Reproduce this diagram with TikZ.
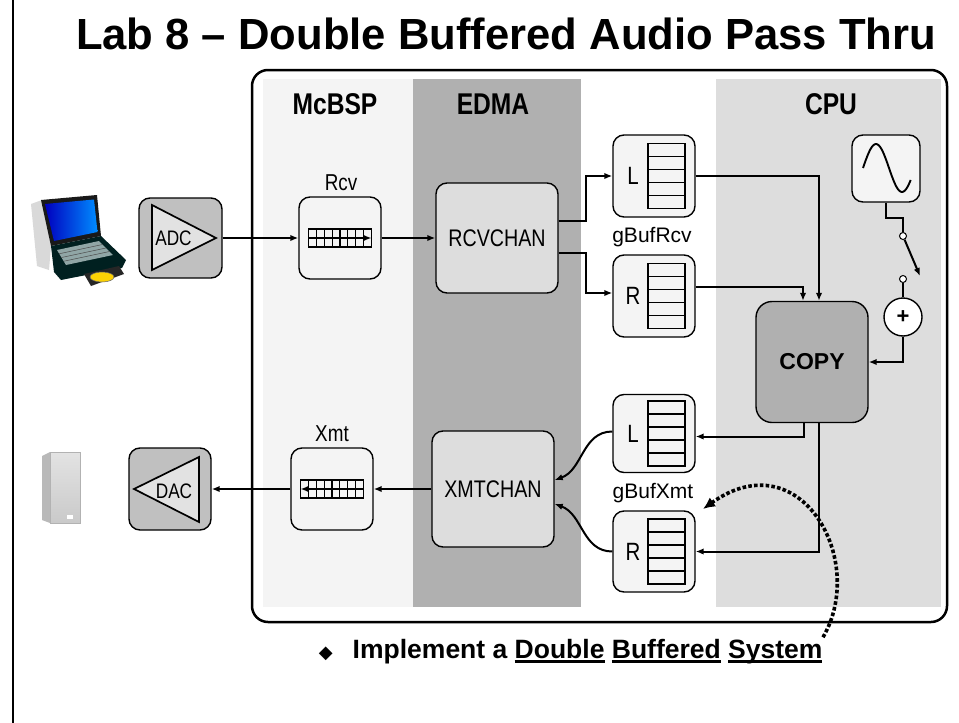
\documentclass[tikz,border=0pt]{standalone}
\usepackage{fontspec}
\setmainfont{Liberation Sans}
\newfontfamily\narrowfont[FakeStretch=0.82]{Liberation Sans}
\newfontfamily\symfont{DejaVu Sans}
\usetikzlibrary{arrows.meta,calc}
\definecolor{bandlight}{HTML}{F4F4F4}
\definecolor{banddark}{HTML}{B0B0B0}
\definecolor{bandcpu}{HTML}{DDDDDD}
\definecolor{convgrey}{HTML}{C0C0C0}
\definecolor{trifill}{HTML}{E2E2E2}
\newcommand\ulword[1]{\setbox0=\hbox{#1}\rlap{\rule[-4.5pt]{\wd0}{2.2pt}}\box0\relax}
\tikzset{
  blk/.style={draw=black, line width=1.4pt, rounded corners=11pt, inner sep=0pt},
  lbl/.style={font=\narrowfont\fontsize{23}{25}\selectfont},
  chlbl/.style={font=\narrowfont\fontsize{25}{27}\selectfont},
  buflbl/.style={font=\fontsize{21}{23}\selectfont},
  bandlbl/.style={font=\narrowfont\bfseries\fontsize{30}{32}\selectfont},
  flow/.style={line width=2pt, -{Latex[length=8pt,width=6.5pt]}},
  wire/.style={line width=2pt},
  tiny/.style={circle, draw, fill=white, inner sep=0pt, minimum size=7pt, line width=1pt},
  dotflow/.style={line width=3.6pt, dash pattern=on 3.6pt off 2.2pt, -{Latex[length=12pt,width=11pt]}},
  stack/.pic={
    \draw[line width=1.3pt] (-18.5,-32.5) rectangle (18.5,32.5);
    \foreach \k in {-19.5,-6.5,6.5,19.5} \draw[line width=1.3pt] (-18.5,\k) -- (18.5,\k);
  },
  shreg/.pic={
    \draw[line width=1.2pt] (-31.5,-9) rectangle (31.5,9);
    \foreach \c in {1,...,7} \draw[line width=1.2pt] (-31.5+\c*7.875,-9) -- (-31.5+\c*7.875,9);
  }
}
\begin{document}
\begin{tikzpicture}[x=1pt,y=-1pt]
\useasboundingbox (0,0) rectangle (959,723);
\fill[white] (0,0) rectangle (959,723);

% page edge
\draw[line width=2.5pt] (13,0) -- (13,723);

% title
\node[font=\bfseries\fontsize{43.6}{46}\selectfont] (title) at (506,34) {Lab 8 – Double Buffered Audio Pass Thru};

% processing bands
\fill[bandlight] (263,79) rectangle (413,607);
\fill[banddark] (413,79) rectangle (581,607);
\fill[bandcpu] (716,79) rectangle (941,607);
\draw[line width=2.5pt, rounded corners=16pt] (252,70) rectangle (947,622);

\node[bandlbl] (mcbsp) at (335,104) {McBSP};
\node[bandlbl] (edma) at (493,104) {EDMA};
\node[bandlbl] (cpu) at (831,104) {CPU};

% laptop
\fill[gray!30] (31,204) -- (42,200) -- (51,246) -- (49,270) -- (37,266) -- cycle;
\fill[black!90] (41,200) -- (97,195) -- (101,236) -- (51,246) -- cycle;
\shade[left color=blue!75!black, right color=cyan!55!blue] (45,204) -- (94,199.5) -- (97.5,232) -- (54,241) -- cycle;
\fill[black!75!teal] (51,246) -- (101,236) -- (126,260) -- (122,268) -- (61,280) -- (54,272) -- cycle;
\fill[teal!25!gray!70] (57,250) -- (99,241) -- (113,255) -- (66,265) -- cycle;
\foreach \r in {0.25,0.5,0.75}
  \draw[black!70, line width=0.5pt] ($(57,250)!\r!(66,265)$) -- ($(99,241)!\r!(113,255)$);
\fill[black!85] (84,274) -- (119,266) -- (124,274) -- (91,286) -- cycle;
\fill[yellow!70!orange] (102,277) ellipse [x radius=12pt, y radius=5pt];
\draw[black!60, line width=0.5pt] (102,277) ellipse [x radius=12pt, y radius=5pt];

% speaker
\fill[gray!55] (42,456) -- (50,452) -- (50,523) -- (42,520) -- cycle;
\shade[top color=gray!22, bottom color=gray!42] (50,452) rectangle (80,523);
\draw[gray!60, line width=0.6pt] (50,452) rectangle (80,523);
\fill[white] (67,515) rectangle (73,519);

% receive path
\node[blk, fill=convgrey, minimum width=83pt, minimum height=80pt] (adc) at (180.5,238) {};
\draw[line width=1.7pt, fill=trifill, line join=miter] ([xshift=-28.5pt, yshift=33pt]adc.center) -- ([xshift=35.5pt]adc.center) -- ([xshift=-28.5pt, yshift=-32pt]adc.center) -- cycle;
\node[lbl, font=\narrowfont\fontsize{21}{23}\selectfont] (adctxt) at ([xshift=-7pt]adc.center) {ADC};

\node[blk, fill=bandlight, minimum width=82pt, minimum height=82pt] (rcv) at (340,238) {};
\node[lbl] (rcvlbl) at (341,183) {Rcv};
\pic at (rcv.center) {shreg};
\draw[flow] ([xshift=-31.5pt]rcv.center) -- ([xshift=31.5pt]rcv.center);

\node[blk, fill=bandcpu, minimum width=122pt, minimum height=110pt, font=\narrowfont\fontsize{24}{26}\selectfont] (rcvchan) at (497,238) {RCVCHAN};

\node[blk, fill=bandlight, minimum width=82pt, minimum height=82pt] (bufrl) at (654,176) {};
\node[blk, fill=bandlight, minimum width=82pt, minimum height=82pt] (bufrr) at (654,296) {};
\pic at ([xshift=12.5pt]bufrl.center) {stack};
\pic at ([xshift=12.5pt]bufrr.center) {stack};
\node[chlbl] (lrl) at ([xshift=-21pt]bufrl.center) {L};
\node[chlbl] (lrr) at ([xshift=-21pt]bufrr.center) {R};
\node[buflbl] (gbufrcv) at (652,237) {gBufRcv};

% CPU
\node[blk, fill=banddark, rounded corners=16pt, minimum width=112pt, minimum height=121pt, font=\bfseries\fontsize{23}{25}\selectfont] (copy) at (812,362) {COPY};
\node[blk, fill=bandlight, minimum width=68pt, minimum height=67pt] (sine) at (886,168.5) {};
\draw[line width=1.9pt] plot[smooth, domain=0:330, samples=34] ({863+\x/360*52},{168-24*sin(\x)});
\node[tiny] (swa) at (903,236) {};
\node[tiny] (swb) at (903,279) {};
\coordinate (swtip) at (920,276);
\node[circle, draw, fill=white, line width=1.4pt, minimum size=38pt, inner sep=0pt, font=\bfseries\fontsize{22}{22}\selectfont] (plus) at (903,317) {+};

% transmit path
\node[blk, fill=bandlight, minimum width=82pt, minimum height=78pt] (bufxl) at (654,433.5) {};
\node[blk, fill=bandlight, minimum width=82pt, minimum height=81pt] (bufxr) at (654,551.5) {};
\pic at ([xshift=12.5pt]bufxl.center) {stack};
\pic at ([xshift=12.5pt]bufxr.center) {stack};
\node[chlbl] (lxl) at ([xshift=-21pt]bufxl.center) {L};
\node[chlbl] (lxr) at ([xshift=-21pt]bufxr.center) {R};
\node[buflbl] (gbufxmt) at (653,493) {gBufXmt};

\node[blk, fill=bandcpu, minimum width=122pt, minimum height=116pt, font=\narrowfont\fontsize{24}{26}\selectfont] (xmtchan) at (493,489) {XMTCHAN};

\node[blk, fill=bandlight, minimum width=82pt, minimum height=82pt] (xmt) at (332,489) {};
\node[lbl] (xmtlbl) at (332,434) {Xmt};
\pic at (xmt.center) {shreg};
\draw[flow] ([xshift=31.5pt]xmt.center) -- ([xshift=-31.5pt]xmt.center);

\node[blk, fill=convgrey, minimum width=82pt, minimum height=82pt] (dac) at (170,489) {};
\draw[line width=1.7pt, fill=trifill, line join=miter] ([xshift=29pt, yshift=32pt]dac.center) -- ([xshift=-36pt]dac.center) -- ([xshift=29pt, yshift=-33pt]dac.center) -- cycle;
\node[lbl, font=\narrowfont\fontsize{21}{23}\selectfont] (dactxt) at ([xshift=4pt, yshift=-2pt]dac.center) {DAC};

% connectors
\draw[flow] (adc.east) -- (rcv.west);
\draw[flow] (rcv.east) -- (rcvchan.west);
\draw[flow] ([yshift=17pt]rcvchan.east) -- ++(27,0) |- (bufrl.west);
\draw[flow] ([yshift=-15pt]rcvchan.east) -- ++(27,0) |- ([yshift=3pt]bufrr.west);
\draw[flow] (bufrl.east) -| ([xshift=7pt]copy.north);
\draw[flow] ([yshift=9pt]bufrr.east) -| ([xshift=-9pt]copy.north);
\draw[wire] (sine.south) -- ++(0,15) -| (swa.north);
\draw[flow] (swa) -- (swtip);
\draw[wire] (swb.south) -- (plus.north);
\draw[flow] (plus.south) |- (copy.east);
\draw[flow] ([xshift=-8pt]copy.south) |- ([yshift=-3pt]bufxl.east);
\draw[flow] ([xshift=7pt]copy.south) |- (bufxr.east);
\draw[flow] ([yshift=2pt]bufxl.west) .. controls +(-30,0) and +(28,-10) .. ([yshift=9pt]xmtchan.east);
\draw[flow] (bufxr.west) .. controls +(-30,0) and +(28,10) .. ([yshift=-15pt]xmtchan.east);
\draw[flow] (xmtchan.west) -- (xmt.east);
\draw[flow] (xmt.west) -- (dac.east);

% note
\node[anchor=base east, font=\bfseries\fontsize{26.5}{28}\selectfont] (note) at (826,658)
  {{\symfont\fontsize{18}{18}\selectfont ◆}\hspace{20pt}Implement a \ulword{Double} \ulword{Buffered} \ulword{System}};
\coordinate (dotend) at (703,509);
\draw[dotflow] ([xshift=-3pt, yshift=-2pt]note.north east) .. controls (868,560) and (800,440) .. (dotend);
\end{tikzpicture}
\end{document}
